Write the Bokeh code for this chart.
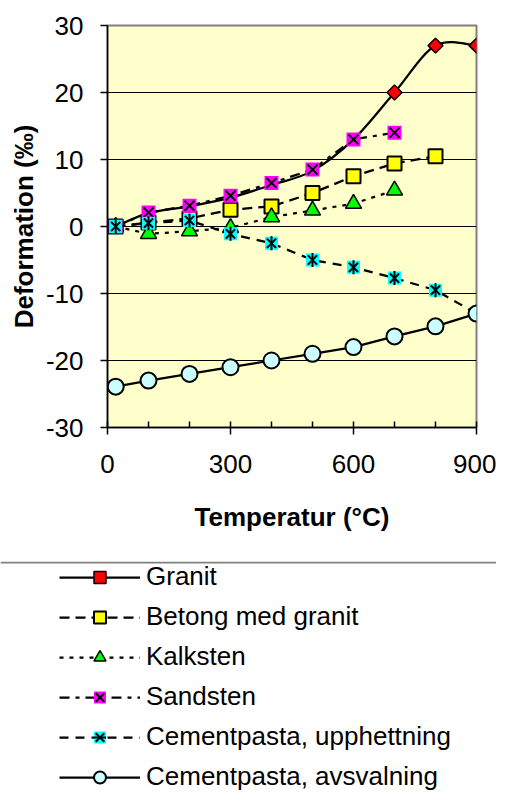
import numpy as np
from bokeh.plotting import figure
from bokeh.models import Range1d, FixedTicker, Span, Legend, LegendItem, ColumnDataSource
from bokeh.layouts import column
from bokeh.embed import file_html
from bokeh.resources import INLINE

# ---- data ----
temps = [20, 100, 200, 300, 400, 500, 600, 700, 800, 900]
granit = [0, 2.0, 3.0, 4.3, 6.2, 8.3, 13.0, 20.0, 27.0, 27.0]
granit_marker_t = [700, 800, 900]
granit_marker = [20.0, 27.0, 27.0]
betong_t = [20, 100, 200, 300, 400, 500, 600, 700, 800]
betong = [0, 0.6, 1.2, 2.5, 3.0, 5.0, 7.5, 9.4, 10.5]
kalk_t = [20, 100, 200, 300, 400, 500, 600, 700]
kalk = [0, -1.1, -0.7, -0.2, 1.4, 2.4, 3.4, 5.4]
sand_t = [20, 100, 200, 300, 400, 500, 600, 700]
sand = [0, 2.1, 3.1, 4.6, 6.5, 8.5, 13.0, 14.0]
cem_up = [0, 0.5, 0.9, -1.1, -2.5, -5.0, -6.1, -7.7, -9.5, -13.0]
cem_av = [-23.9, -23.0, -22.0, -21.0, -20.0, -19.0, -18.0, -16.4, -14.9, -13.0]

labels = ["Granit", "Betong med granit", "Kalksten", "Sandsten",
          "Cementpasta, upphettning", "Cementpasta, avsvalning"]

x_ticks = [0, 300, 600, 900]
x_minor = [100, 200, 400, 500, 700, 800]
y_ticks = [-30, -20, -10, 0, 10, 20, 30]

FONT = "Liberation Sans"
LW = 2.25


# ---- smoothing (Catmull-Rom style, like the spreadsheet's smoothed line) ----
def smooth(xs, ys):
    n = len(xs)
    out = dict(x0=[], y0=[], x1=[], y1=[], cx0=[], cy0=[], cx1=[], cy1=[])
    for i in range(n - 1):
        a = i - 1 if i > 0 else i
        d = i + 2 if i + 2 < n else i + 1
        out["x0"].append(xs[i]); out["y0"].append(ys[i])
        out["x1"].append(xs[i + 1]); out["y1"].append(ys[i + 1])
        out["cx0"].append(xs[i] + (xs[i + 1] - xs[a]) / 6)
        out["cy0"].append(ys[i] + (ys[i + 1] - ys[a]) / 6)
        out["cx1"].append(xs[i + 1] - (xs[d] - xs[i]) / 6)
        out["cy1"].append(ys[i + 1] - (ys[d] - ys[i]) / 6)
    return out


def draw_series(f, bez=True):
    """Draw all six series on figure f; return renderer lists per series."""
    out = []
    # Granit
    if bez:
        r1 = f.bezier(source=ColumnDataSource(smooth(temps, granit)), x0="x0", y0="y0",
                      x1="x1", y1="y1", cx0="cx0", cy0="cy0", cx1="cx1", cy1="cy1",
                      line_color="black", line_width=LW)
    else:
        r1 = f.line(temps, granit, line_color="black", line_width=LW)
    r2 = f.scatter(granit_marker_t, granit_marker, marker="square", angle=np.pi / 4,
                   size=10.5, fill_color="#FF0000", line_color="black", line_width=1.5)
    out.append([r1, r2])
    # Betong med granit
    r1 = f.line(betong_t, betong, line_color="black", line_width=LW, line_dash="10 6")
    r2 = f.scatter(betong_t, betong, marker="square", size=14, fill_color="#FFFF00",
                   line_color="black", line_width=2)
    out.append([r1, r2])
    # Kalksten
    r1 = f.line(kalk_t, kalk, line_color="black", line_width=LW, line_dash="4 6")
    r2 = f.scatter(kalk_t, kalk, marker="triangle", size=16, fill_color="#00FF00",
                   line_color="black", line_width=1.5)
    out.append([r1, r2])
    # Sandsten
    r1 = f.line(sand_t, sand, line_color="black", line_width=LW, line_dash="10 6 4 6")
    r2 = f.scatter(sand_t, sand, marker="square", size=14, fill_color="#FF00FF", line_color=None)
    r3 = f.scatter(sand_t, sand, marker="x", size=14, line_color="black", line_width=2)
    out.append([r1, r2, r3])
    # Cementpasta, upphettning
    r1 = f.line(temps, cem_up, line_color="black", line_width=LW, line_dash="9 7")
    r2 = f.scatter(temps, cem_up, marker="square", size=13, fill_color="#00FFFF", line_color=None)
    r3 = f.scatter(temps, cem_up, marker="x", size=13, line_color="black", line_width=2)
    r4 = f.scatter(temps, cem_up, marker="dash", angle=np.pi / 2, size=14,
                   line_color="black", line_width=2)
    out.append([r1, r2, r3, r4])
    # Cementpasta, avsvalning
    r1 = f.line(temps, cem_av, line_color="black", line_width=LW)
    r2 = f.scatter(temps, cem_av, marker="circle", size=16, fill_color="#CCFFFF",
                   line_color="black", line_width=2)
    out.append([r1, r2])
    return out


# ---- main figure ----
p = figure(width=496, height=561, x_range=Range1d(0, 900), y_range=Range1d(-30, 30),
           output_backend="svg", toolbar_location=None,
           min_border_left=107, min_border_right=20, min_border_top=25, min_border_bottom=134,
           background_fill_color="#FFFFCC", border_fill_color="white")
p.frame_align = False
p.outline_line_color = "#808080"
p.outline_line_width = 2
p.xgrid.visible = False
p.ygrid.ticker = FixedTicker(ticks=y_ticks)
p.ygrid.grid_line_color = "black"
p.ygrid.grid_line_width = 1

p.xaxis.ticker = FixedTicker(ticks=x_ticks, minor_ticks=x_minor)
p.yaxis.ticker = FixedTicker(ticks=y_ticks)
p.yaxis.major_label_overrides = {t: str(t) for t in y_ticks}
p.xaxis.axis_label = "Temperatur (°C)"
p.yaxis.axis_label = "Deformation (‰)"
for ax in (p.xaxis[0], p.yaxis[0]):
    ax.axis_line_color = "black"
    ax.axis_line_width = 1.5
    ax.major_tick_line_color = "black"
    ax.major_tick_line_width = 1.5
    ax.major_label_text_font = FONT
    ax.major_label_text_font_size = "26px"
    ax.major_label_text_color = "black"
    ax.axis_label_text_font = FONT
    ax.axis_label_text_font_size = "26px"
    ax.axis_label_text_font_style = "bold"
    ax.axis_label_text_color = "black"
p.xaxis.major_tick_in = 6
p.xaxis.major_tick_out = 7
p.xaxis.minor_tick_in = 6
p.xaxis.minor_tick_out = 0
p.xaxis.minor_tick_line_color = "black"
p.xaxis.minor_tick_line_width = 1.5
p.xaxis.major_label_standoff = 20
p.xaxis.axis_label_standoff = 26
p.yaxis.major_tick_in = 0
p.yaxis.major_tick_out = 7
p.yaxis.minor_tick_line_color = None
p.yaxis.major_label_standoff = 17
p.yaxis.axis_label_standoff = 4

draw_series(p)

# ---- legend panel (its series lie outside its visible range; only the legend shows) ----
LH = 233
lg = figure(width=496, height=LH, x_range=Range1d(1000, 1496), y_range=Range1d(0, LH),
            output_backend="svg", toolbar_location=None, min_border=0,
            x_axis_location=None, y_axis_location=None, outline_line_color=None,
            background_fill_color="white", border_fill_color="white")
lg.frame_align = False
lg.grid.visible = False
lg.add_layout(Span(location=LH - 1, dimension="width", line_color="#808080", line_width=2))

proxies = draw_series(lg, bez=False)
items = [LegendItem(label=lab, renderers=rs) for lab, rs in zip(labels, proxies)]

legend = Legend(items=items, location=(59, 2), padding=0, margin=0,
                border_line_color=None, background_fill_alpha=0,
                glyph_width=81, glyph_height=30, label_height=30, label_standoff=6,
                spacing=9, label_text_font=FONT, label_text_font_size="26px",
                label_text_color="black")
lg.add_layout(legend)

layout = column(p, lg, spacing=0)
open("out.html", "w").write(file_html(layout, INLINE))
